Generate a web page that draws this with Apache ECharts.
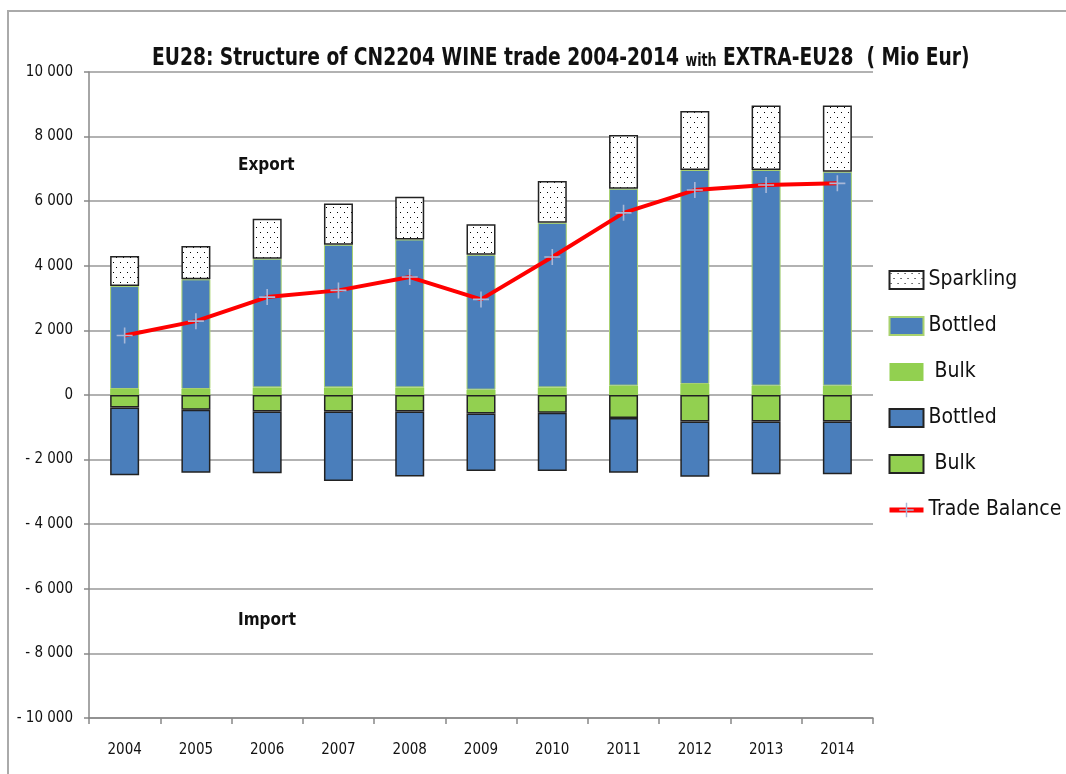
<!DOCTYPE html>
<html>
<head>
<meta charset="utf-8">
<script src="https://cdn.jsdelivr.net/npm/echarts@6/dist/echarts.min.js"></script>
<style>
  html, body { margin: 0; padding: 0; background: #fff; }
  #chart { width: 1066px; height: 774px; }
</style>
</head>
<body>
<div id="chart"></div>
<script>
var FONT = "'DejaVu Sans Condensed', 'Liberation Sans', sans-serif";

// data (Mio Eur)
var years = ['2004', '2005', '2006', '2007', '2008', '2009', '2010', '2011', '2012', '2013', '2014'];
var exportBulk = [186, 186, 236, 236, 236, 165, 236, 289, 342, 289, 289];
var exportBottled = [3187, 3394, 3984, 4414, 4578, 4175, 5093, 6096, 6624, 6677, 6624];
var exportSparkling = [931, 1035, 1233, 1282, 1323, 949, 1295, 1668, 1823, 1997, 2050];
var importBulk = [-385, -456, -509, -509, -509, -571, -550, -714, -820, -820, -820];
var importBottled = [-2099, -1948, -1913, -2152, -2018, -1780, -1801, -1690, -1708, -1635, -1635];
var tradeBalance = [1842, 2286, 3031, 3239, 3652, 2960, 4273, 5640, 6345, 6500, 6553];

// dotted fill for sparkling
var pat = document.createElement('canvas');
pat.width = 7;
pat.height = 10;
var pctx = pat.getContext('2d');
pctx.fillStyle = '#fff';
pctx.fillRect(0, 0, 7, 10);
pctx.fillStyle = '#000';
pctx.fillRect(1, 2, 1, 1);
pctx.fillRect(4, 7, 1, 1);

var legendNames = {
  'Sparkling': 'Sparkling',
  'Bottled exp': 'Bottled',
  'Bulk exp': ' Bulk',
  'Bottled imp': 'Bottled',
  'Bulk imp': ' Bulk',
  'Trade Balance': 'Trade Balance'
};

function fmtAxis(v) {
  if (v === 0) return '0';
  var s = String(Math.abs(v)).replace(/\B(?=(\d{3})+(?!\d))/g, ' ');
  return v < 0 ? '- ' + s : s;
}

var myChart = echarts.init(document.getElementById('chart'));
var option = {
  animation: false,
  textStyle: { fontFamily: FONT },
  legend: {
    orient: 'vertical',
    left: 887,
    top: 268,
    padding: 0,
    itemWidth: 34,
    itemHeight: 18,
    itemGap: 22,
    data: [
      { name: 'Sparkling', icon: 'rect' },
      { name: 'Bottled exp', icon: 'rect' },
      { name: 'Bulk exp', icon: 'rect' },
      { name: 'Bottled imp', icon: 'rect' },
      { name: 'Bulk imp', icon: 'rect' },
      { name: 'Trade Balance', lineStyle: { width: 5 } }
    ],
    formatter: function(name) {
      return legendNames[name];
    },
    textStyle: { fontFamily: FONT, fontSize: 21, lineHeight: 24, color: '#111' }
  },
  grid: {
    left: 89,
    top: 72,
    width: 784,
    height: 646
  },
  xAxis: {
    type: 'category',
    data: years,
    axisLine: { onZero: false, lineStyle: { color: '#888', width: 1.5 } },
    axisTick: { show: true, length: 6, lineStyle: { color: '#888', width: 1.5 } },
    axisLabel: { margin: 25, fontSize: 15, color: '#111', fontFamily: FONT }
  },
  yAxis: {
    type: 'value',
    min: -10000,
    max: 10000,
    interval: 2000,
    axisLine: { show: true, lineStyle: { color: '#888', width: 1.5 } },
    axisTick: { show: true, length: 5, lineStyle: { color: '#888', width: 1.5 } },
    axisLabel: { margin: 16, fontSize: 15, color: '#111', fontFamily: FONT, formatter: fmtAxis },
    splitLine: { lineStyle: { color: '#999', width: 1.5 } }
  },
  graphic: [
    { type: 'polyline', shape: { points: [[8, 774], [8, 11], [1066, 11]] }, style: { stroke: '#aaa', lineWidth: 2, fill: null } },
    {
      type: 'text',
      x: 152,
      y: 46,
      scaleX: 0.83,
      style: {
        text: '{a|EU28: Structure of CN2204 WINE trade 2004-2014 }{b|with}{a| EXTRA-EU28  ( Mio Eur)}',
        rich: {
          a: { font: 'bold 25px ' + FONT, fill: '#111' },
          b: { font: 'bold 17px ' + FONT, fill: '#111', padding: [6, 0, 0, 0] }
        }
      }
    },
    { type: 'text', left: 238, top: 157, style: { text: 'Export', font: 'bold 17px ' + FONT, fill: '#111' } },
    { type: 'text', left: 238, top: 612, style: { text: 'Import', font: 'bold 17px ' + FONT, fill: '#111' } }
  ],
  series: [{
      name: 'Bulk exp',
      type: 'bar',
      stack: 'trade',
      barWidth: 29,
      itemStyle: { color: '#92d050' },
      data: exportBulk
    },
    {
      name: 'Bottled exp',
      type: 'bar',
      stack: 'trade',
      barWidth: 29,
      itemStyle: { color: '#4a7ebb', borderColor: '#a9d26e', borderWidth: 1 },
      data: exportBottled
    },
    {
      name: 'Sparkling',
      type: 'bar',
      stack: 'trade',
      barWidth: 29,
      itemStyle: { color: { image: pat, repeat: 'repeat' }, borderColor: '#222', borderWidth: 1.5 },
      data: exportSparkling
    },
    {
      name: 'Bulk imp',
      type: 'bar',
      stack: 'trade',
      barWidth: 29,
      itemStyle: { color: '#92d050', borderColor: '#222', borderWidth: 1.5 },
      data: importBulk
    },
    {
      name: 'Bottled imp',
      type: 'bar',
      stack: 'trade',
      barWidth: 29,
      itemStyle: { color: '#4a7ebb', borderColor: '#222', borderWidth: 1.5 },
      data: importBottled
    },
    {
      name: 'Trade Balance',
      type: 'line',
      z: 5,
      symbol: 'path://M0,4.5h10v1h-10z M4.5,0h1v10h-1z',
      symbolSize: 16,
      itemStyle: { color: '#a8b8d8' },
      lineStyle: { color: '#ff0000', width: 4 },
      data: tradeBalance
    }
  ]
};
myChart.setOption(option);
</script>
</body>
</html>
